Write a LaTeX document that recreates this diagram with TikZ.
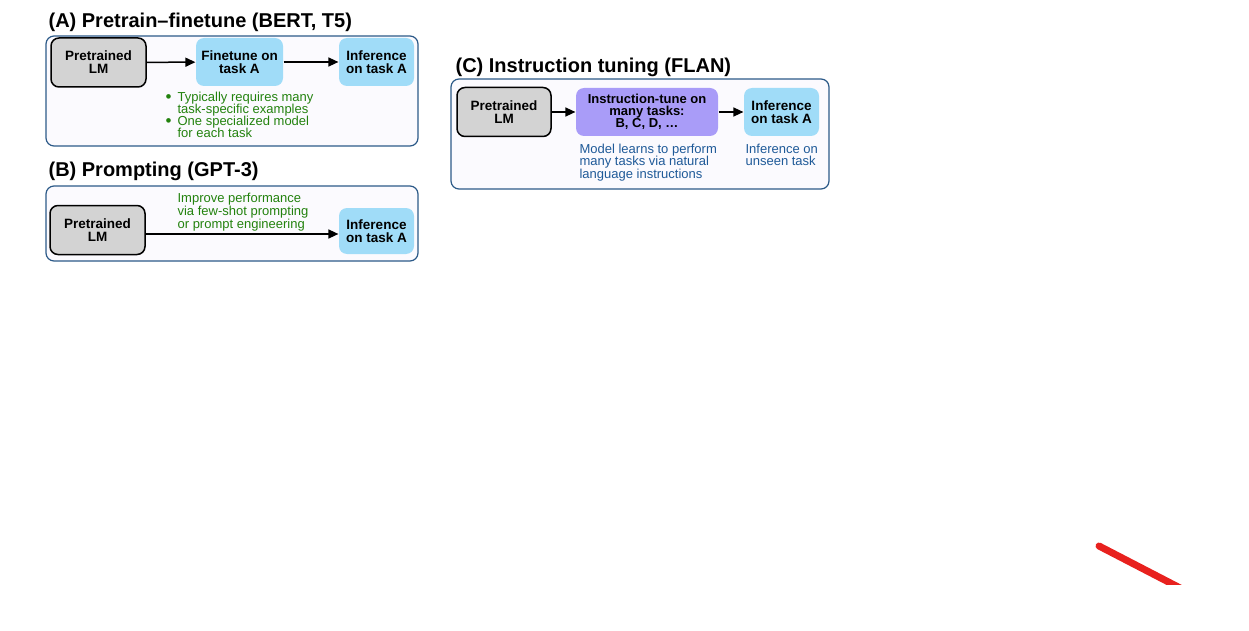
\documentclass[tikz,border=0pt]{standalone}
\usepackage{fontspec}
\setmainfont{Liberation Sans}
\setsansfont{Liberation Sans}
\usetikzlibrary{arrows.meta, positioning}
\definecolor{cgrey}{HTML}{D3D3D3}
\definecolor{csky}{HTML}{A0DCF8}
\definecolor{cviolet}{HTML}{A99CF8}
\definecolor{cgreen}{HTML}{23820E}
\definecolor{cnavy}{HTML}{1F5A98}
\definecolor{cframe}{HTML}{2C5A88}
\definecolor{cpanel}{HTML}{FBFAFE}
\definecolor{cred}{HTML}{E8211E}
\newcommand{\tightlines}{\lineskiplimit-8pt\relax}
\newcommand{\tipdot}{\makebox[12pt][l]{\raisebox{-1.8pt}[0pt][0pt]{\fontsize{17}{12}\selectfont\textbullet}}}
\tikzset{
  every picture/.style={font=\sffamily, line width=1.2pt},
  box/.style={fill=#1, rounded corners=8pt, align=center, inner sep=0pt, minimum height=48pt, font=\sffamily\fontsize{13.5}{13}\selectfont\bfseries\tightlines},
  box/.default=csky,
  lm/.style={box=cgrey, draw=black, line width=1.5pt, minimum width=95pt, minimum height=49pt},
  arrow/.style={-{Triangle[length=10pt, width=9pt]}, draw=black, line width=1.5pt},
  title/.style={font=\sffamily\fontsize{20}{24}\selectfont\bfseries, anchor=base west, inner sep=0pt},
  note/.style={font=\sffamily\fontsize{13}{12.5}\selectfont\tightlines, text=#1, align=left, anchor=north west, inner sep=0pt},
  panel/.style={draw=cframe, fill=cpanel, rounded corners=8pt, line width=1.2pt},
}

\begin{document}
\begin{tikzpicture}[x=1pt, y=-1pt, inf/.style={box=csky, minimum width=75pt}]
  \useasboundingbox (0,0) rectangle (1249,631);
  % panel frames
  \draw[panel] (46,36) rectangle (418,146);
  \draw[panel] (46,186) rectangle (418,261);
  \draw[panel] (451,79) rectangle (829,189);

  % (A) pretrain-finetune
  \node[title] (titleA) at (48,28) {(A) Pretrain–finetune (BERT, T5)};
  \node[lm] (preA) at (98.5,62.5) {Pretrained\\LM};
  \node[box=csky, minimum width=87pt] (fineA) at (239.5,62) {Finetune on\\task A};
  \node[inf] (infA) at (376.5,62) {Inference\\on task A};
  \draw[arrow] (preA) -- (fineA);
  \draw[arrow] (fineA) -- (infA);
  \node[note=cgreen, font=\sffamily\fontsize{13}{12}\selectfont\tightlines] (tipsA) at (165,91)
    {\tipdot Typically requires many\\\hspace*{12pt}task-specific examples\\
     \tipdot One specialized model\\\hspace*{12pt}for each task};

  % (B) prompting
  \node[title] (titleB) at (48,177) {(B) Prompting (GPT-3)};
  \node[lm] (preB) at (97.5,230) {Pretrained\\LM};
  \node[inf, minimum height=46pt] (infB) at (376.5,231) {Inference\\on task A};
  \draw[arrow] ([yshift=-4pt]preB.east) -- ([yshift=-3pt]infB.west);
  \node[note=cgreen, font=\sffamily\fontsize{13}{13}\selectfont\tightlines] (tipsB) at (177,192)
    {Improve performance\\via few-shot prompting\\or prompt engineering};

  % (C) instruction tuning
  \node[title] (titleC) at (455,73) {(C) Instruction tuning (FLAN)};
  \node[lm, minimum width=94pt] (preC) at (504,112) {Pretrained\\LM};
  \node[box=cviolet, minimum width=142pt, font=\sffamily\fontsize{13}{12}\selectfont\bfseries\tightlines] (tuneC) at (647,112) {Instruction-tune on\\many tasks:\\B, C, D, …};
  \node[inf] (infC) at (781.5,112) {Inference\\on task A};
  \draw[arrow] (preC) -- (tuneC);
  \draw[arrow] (tuneC) -- (infC);
  \node[note=cnavy] (tipsC) at (579,143) {Model learns to perform\\many tasks via natural\\language instructions};
  \node[note=cnavy] (unseenC) at (745,143) {Inference on\\unseen task};

  % stray red stroke
  \begin{scope}
    \clip (1080,530) rectangle (1200,584);
    \draw[cred, line width=7pt, line cap=round] (1099,546) -- (1182,589);
  \end{scope}
\end{tikzpicture}
\end{document}
